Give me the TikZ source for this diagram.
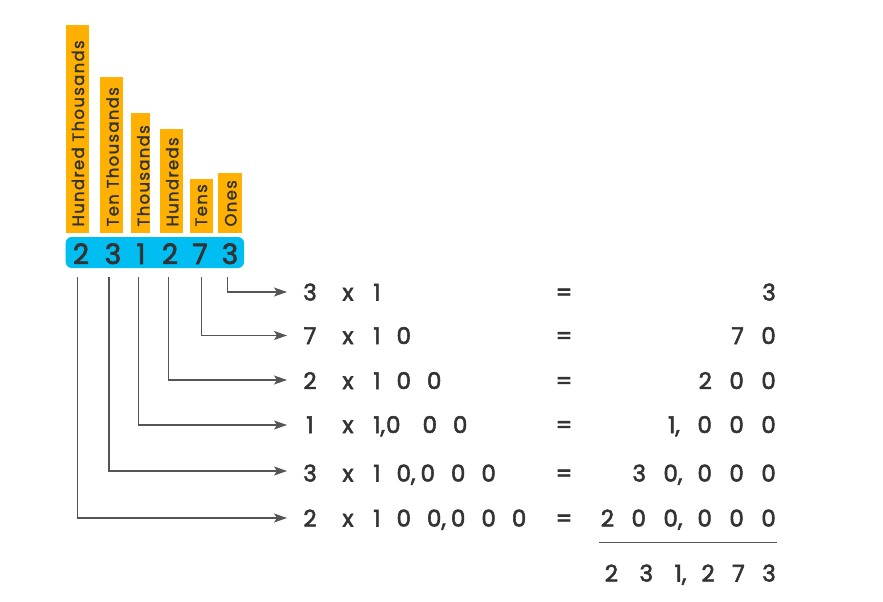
\documentclass[tikz,border=0pt]{standalone}
\usepackage{fontspec}
\setmainfont{Poppins}[FakeBold=2.4]
\newfontfamily\barfont[LetterSpace=8,FakeBold=1.6]{Poppins}
\usetikzlibrary{arrows.meta}
\definecolor{barc}{HTML}{FFB000}
\definecolor{boxc}{HTML}{00BDF2}
\definecolor{txt}{HTML}{333333}
\definecolor{lnc}{HTML}{555555}
\newcommand\gp{\hspace{16pt}}
\newcommand\gq{\hspace{17.5pt}}
\begin{document}
\begin{tikzpicture}[x=1pt,y=-1pt,
  bartext/.style={rotate=90,anchor=base west,font=\barfont\fontsize{16.5}{16.5}\selectfont,text=txt,inner sep=0pt},
  bigdigit/.style={anchor=base,font=\fontsize{28}{28}\selectfont,text=txt,inner sep=0pt},
  num/.style={font=\fontsize{23}{23}\selectfont,text=txt,inner sep=0pt},
  conn/.style={draw=lnc,line width=1.3pt,-{Stealth[length=13pt,width=9pt,inset=3pt]}}]
\useasboundingbox (0,0) rectangle (883,602);
\fill[white] (0,0) rectangle (883,602);
% bars
\fill[barc] (65.7,25) rectangle (89.3,233);
\fill[barc] (100,76.7) rectangle (123.3,233);
\fill[barc] (131,113) rectangle (150,233);
\fill[barc] (160,129) rectangle (182.7,233);
\fill[barc] (190,179) rectangle (213.3,233);
\fill[barc] (218.3,173) rectangle (241.7,233);
\node[bartext] (l1) at (84,226.7) {Hundred Thousands};
\node[bartext] (l2) at (118.6,226.7) {Ten Thousands};
\node[bartext] (l3) at (149.3,226.7) {Thousands};
\node[bartext] (l4) at (178.3,226.7) {Hundreds};
\node[bartext] (l5) at (207,226.7) {Tens};
\node[bartext] (l6) at (236.5,226.7) {Ones};
% blue box
\fill[boxc,rounded corners=6pt] (65.7,237) rectangle (244,268);
\node[bigdigit] (d1) at (81,264) {2};
\node[bigdigit] (d2) at (113,264) {3};
\node[bigdigit] (d3) at (141,264) {1};
\node[bigdigit] (d4) at (170,264) {2};
\node[bigdigit] (d5) at (200,264) {7};
\node[bigdigit] (d6) at (230,264) {3};
% rows
\foreach \i/\b/\a/\n/\r in {1/300.5/3/1/3,
  2/344/7/1\gp0/7\gq0,
  3/389/2/1\gp0\gp0/2\gq0\gq0,
  4/433/1/{1,\hspace{1pt}0\hspace{22pt}0\gp0}/{1,\gq0\gq0\gq0},
  5/481.5/3/{1\gp0,\hspace{5pt}0\gp0\gp0}/{3\gq0,\hspace{15pt}0\gq0\gq0},
  6/526.5/2/{1\gp0\gp0,\hspace{5pt}0\gp0\gp0}/{2\gq0\gq0,\hspace{15pt}0\gq0\gq0}}{
  \node[num,anchor=base] (a\i) at (310,\b) {\a};
  \node[num,anchor=base] (x\i) at (348,\b) {x};
  \node[num,anchor=base west] (n\i) at (373,\b) {\n};
  \node[num,anchor=base] (q\i) at (564,\b) {=};
  \node[num,anchor=base east] (r\i) at (776,\b) {\r};
}
\draw[lnc,line width=1.3pt] (599.3,542.7) -- (777.3,542.7);
\node[num,anchor=base east] (tot) at (776,581.5) {2\hspace{21.5pt}3\hspace{21.5pt}1,\hspace{15pt}2\gq7\gq3};
% connectors
\coordinate (s1) at (77.3,277); \coordinate (e6) at (287,518);
\coordinate (s2) at (109,277);  \coordinate (e5) at (287,471);
\coordinate (s3) at (138.3,277);\coordinate (e4) at (287,425);
\coordinate (s4) at (168.3,277);\coordinate (e3) at (287,380);
\coordinate (s5) at (201.7,277);\coordinate (e2) at (287,335.5);
\coordinate (s6) at (227.3,277);\coordinate (e1) at (287,292);
\draw[conn] (s6) |- (e1);
\draw[conn] (s5) |- (e2);
\draw[conn] (s4) |- (e3);
\draw[conn] (s3) |- (e4);
\draw[conn] (s2) |- (e5);
\draw[conn] (s1) |- (e6);
\end{tikzpicture}
\end{document}
